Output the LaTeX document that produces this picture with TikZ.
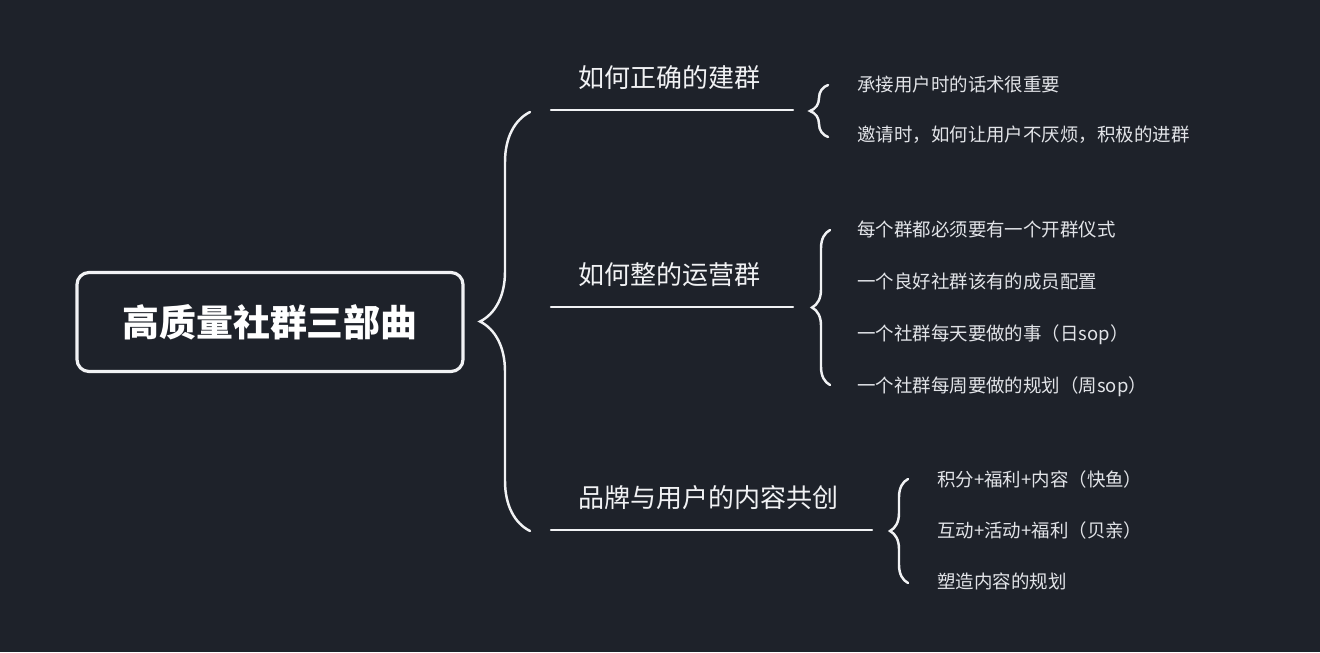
\documentclass[tikz,border=0pt]{standalone}
\usepackage{fontspec}
\setmainfont{Noto Sans CJK SC}
\usepackage{tikz}
\usetikzlibrary{positioning,decorations.pathreplacing}

\definecolor{bgdark}{HTML}{1E222A}
\definecolor{inkwhite}{HTML}{F1F2F4}
\definecolor{leafgrey}{HTML}{E2E4E8}

\begin{document}
\begin{tikzpicture}[x=0.2mm,y=-0.2mm,
    mindline/.style={draw=inkwhite,line width=1.4pt,line cap=round},
    curly/.style={mindline,decorate,decoration={brace,amplitude=#1}},
    rootbox/.style={draw=inkwhite,line width=1.8pt,rounded corners=2.4mm,
      minimum width=77.2mm,minimum height=19.8mm,text=white,
      font=\bfseries\fontsize{21}{25}\selectfont},
    branch/.style={anchor=west,inner sep=0pt,text=inkwhite,
      font=\fontsize{14.8}{17}\selectfont},
    leaf/.style={anchor=west,inner sep=0pt,text=leafgrey,
      font=\fontsize{10.5}{13}\selectfont,text height=8pt,text depth=2pt}]
      \fill[bgdark] (0,0) rectangle (1320,652);
      \useasboundingbox (0,0) rectangle (1320,652);

      \node[rootbox](root) at (270,322){高质量社群三部曲};

      \node[branch](b1) at (578,78){如何正确的建群};
      \node[branch](b2) at (578,275){如何整的运营群};
      \node[branch](b3) at (578,498){品牌与用户的内容共创};

      \coordinate(u1a) at (551,110);
      \coordinate(u1b) at (793,110);
      \coordinate(u2a) at (551,307);
      \coordinate(u2b) at (793,307);
      \coordinate(u3a) at (551,530);
      \coordinate(u3b) at (872,530);

      \node[leaf](l11) at (857,86){承接用户时的话术很重要};
      \node[leaf,below=10mm of l11.west,anchor=west](l12){邀请时，如何让用户不厌烦，积极的进群};

      \node[leaf](l21) at (857,231){每个群都必须要有一个开群仪式};
      \node[leaf,below=10.4mm of l21.west,anchor=west](l22){一个良好社群该有的成员配置};
      \node[leaf,below=10.4mm of l22.west,anchor=west](l23){一个社群每天要做的事（日sop）};
      \node[leaf,below=10.4mm of l23.west,anchor=west](l24){一个社群每周要做的规划（周sop）};

      \node[leaf](l31) at (937,481){积分+福利+内容（快鱼）};
      \node[leaf,below=10.2mm of l31.west,anchor=west](l32){互动+活动+福利（贝亲）};
      \node[leaf,below=10.2mm of l32.west,anchor=west](l33){塑造内容的规划};

      \coordinate(c0t) at (530,112);
      \coordinate(c0b) at (530,531);
      \coordinate(c1t) at (828,85);
      \coordinate(c1b) at (828,137);
      \coordinate(c2t) at (830,230);
      \coordinate(c2b) at (830,385);
      \coordinate(c3t) at (908,479);
      \coordinate(c3b) at (908,583);

      \draw[curly=10mm] (c0b) -- (c0t);
      \draw[mindline] (u1a) -- (u1b);
      \draw[mindline] (u2a) -- (u2b);
      \draw[mindline] (u3a) -- (u3b);
      \draw[curly=3.6mm] (c1b) -- (c1t);
      \draw[curly=3.6mm] (c2b) -- (c2t);
      \draw[curly=3.6mm] (c3b) -- (c3t);
    \end{tikzpicture}
\end{document}
